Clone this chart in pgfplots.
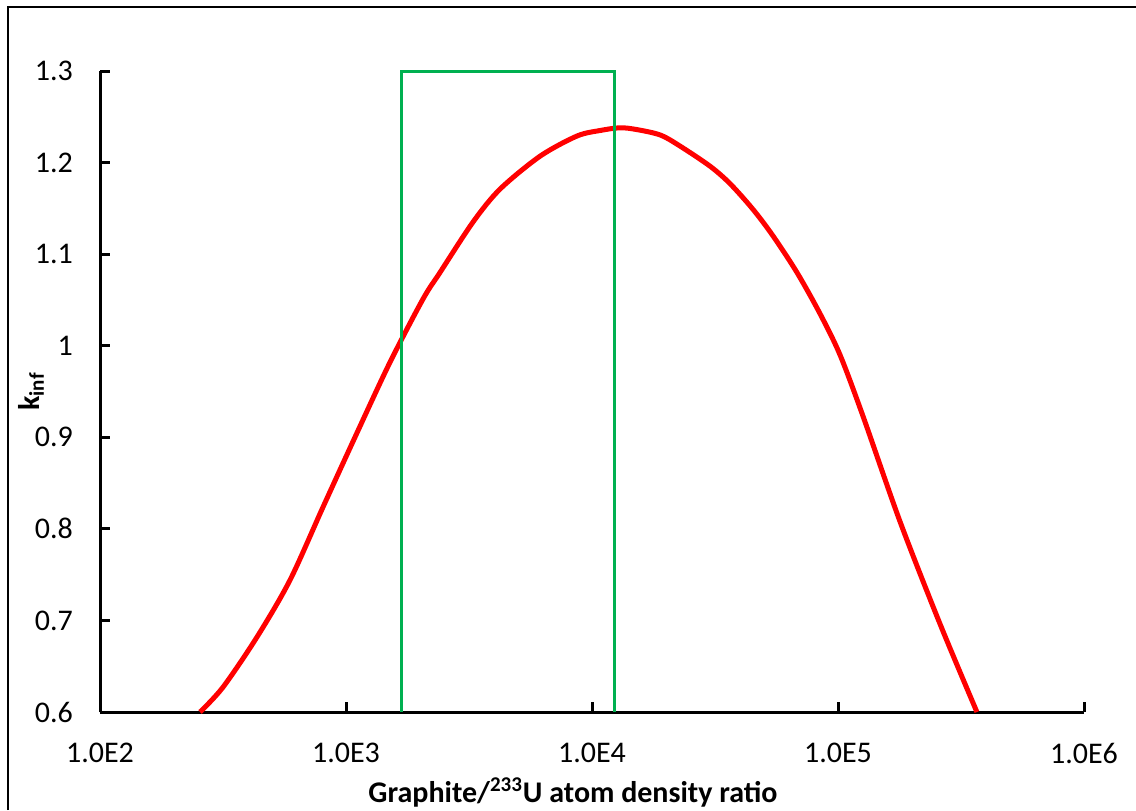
\documentclass[border=0pt]{standalone}
\usepackage{fontspec}
\setmainfont{Carlito}
\usepackage{pgfplots}
\pgfplotsset{compat=1.18}
\definecolor{grn}{HTML}{00B050}
\begin{document}
\begin{tikzpicture}
\begin{axis}[
  name=ax, at={(0,0)}, anchor=south west,
  scale only axis, width=492pt, height=320.5pt,
  xmode=log, xmin=100, xmax=1000000, ymin=0.6, ymax=1.3,
  axis x line*=bottom, axis y line*=left,
  axis line style={line width=1.5pt, black},
  xtick={100,1000,10000,100000,1000000},
  xticklabels={1.0E2,1.0E3,1.0E4,1.0E5,1.0E6},
  xminorticks=false,
  ytick={0.6,0.7,0.8,0.9,1.0,1.1,1.2,1.3},
  yticklabels={0.6,0.7,0.8,0.9,1,1.1,1.2,1.3},
  tick align=inside,
  major tick length=5pt,
  tick style={line width=1.5pt, black},
  ticklabel style={font=\fontsize{15}{18}\selectfont},
  xticklabel style={yshift=-12pt},
  yticklabel style={xshift=-10pt},
  xlabel={Graphite/\textsuperscript{233}U atom density ratio},
  xlabel style={at={(axis description cs:0.4807,0)}, anchor=base, yshift=-45pt, font=\bfseries\fontsize{15}{18}\selectfont},
  ylabel={k\textsubscript{inf}},
  ylabel style={at={(axis description cs:-0.0701,0.5)}, anchor=center, rotate=0, font=\bfseries\fontsize{15}{18}\selectfont},
  clip=false,
]
\addplot[red, line width=2.5pt, smooth, tension=0.5] coordinates {
(255,0.600) (316,0.627) (435,0.682) (592,0.744) (807,0.824) (1109,0.905)
(1510,0.982) (2056,1.051) (2411,1.080) (3282,1.135) (4227,1.171) (6151,1.207)
(8690,1.229) (10780,1.235) (13000,1.238) (15240,1.236) (19000,1.230)
(22800,1.218) (30200,1.196) (36400,1.177) (45100,1.149) (54400,1.120)
(68100,1.080) (84500,1.035) (101900,0.990) (126400,0.923) (178700,0.808)
(260000,0.696) (367000,0.600)
};
\addplot[grn, line width=1.5pt] coordinates {(1689,0.6) (1689,1.3) (12400,1.3) (12400,0.6)};
\end{axis}
\pgfresetboundingbox
\useasboundingbox (-50pt,-49pt) rectangle (518pt,356pt);
\draw[line width=1pt] (-46pt,-49pt) -- (-46pt,352.5pt) -- (518pt,352.5pt);
\end{tikzpicture}
\end{document}
